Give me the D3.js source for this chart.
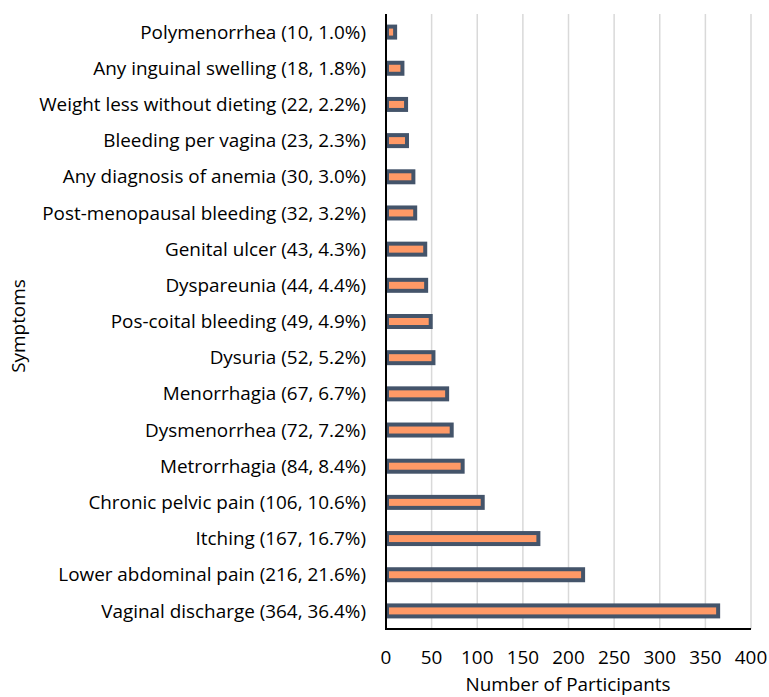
<!DOCTYPE html>
<html>
<head>
<meta charset="utf-8">
<script src="https://cdn.jsdelivr.net/npm/d3@7/dist/d3.min.js"></script>
<style>
  body { margin: 0; background: #fff; }
  svg text { font-family: "Open Sans", "Noto Sans", sans-serif; fill: #000; }
</style>
</head>
<body>
<svg id="chart" width="769" height="697"></svg>
<script>
// Symptom categories (top to bottom) and participant counts
const symptoms = [
  "Polymenorrhea", "Any inguinal swelling", "Weight less without dieting",
  "Bleeding per vagina", "Any diagnosis of anemia", "Post-menopausal bleeding",
  "Genital ulcer", "Dyspareunia", "Pos-coital bleeding", "Dysuria",
  "Menorrhagia", "Dysmenorrhea", "Metrorrhagia", "Chronic pelvic pain",
  "Itching", "Lower abdominal pain", "Vaginal discharge"
];
const counts = [10, 18, 22, 23, 30, 32, 43, 44, 49, 52, 67, 72, 84, 106, 167, 216, 364];
const percents = ["1.0%", "1.8%", "2.2%", "2.3%", "3.0%", "3.2%", "4.3%", "4.4%", "4.9%",
  "5.2%", "6.7%", "7.2%", "8.4%", "10.6%", "16.7%", "21.6%", "36.4%"];
const xTicks = [0, 50, 100, 150, 200, 250, 300, 350, 400];

const rows = symptoms.map((s, i) => ({
  name: s, value: counts[i], label: `${s} (${counts[i]}, ${percents[i]})`
}));

const svg = d3.select("#chart");
const plotL = 386, plotR = 751, plotT = 14, plotB = 629;
const fontSize = 18.9;

const x = d3.scaleLinear().domain([0, 400]).range([plotL, plotR]);
const y = d3.scaleBand().domain(symptoms).range([plotT, plotB]).paddingInner(0.6).paddingOuter(0.3);

// vertical gridlines
svg.append("g").selectAll("line").data(xTicks.slice(1)).join("line")
  .attr("x1", d => x(d)).attr("x2", d => x(d))
  .attr("y1", plotT).attr("y2", plotB)
  .attr("stroke", "#d9d9d9").attr("stroke-width", 1.5);

// bars
svg.append("g").selectAll("rect").data(rows).join("rect")
  .attr("x", x(0) + 1)
  .attr("y", d => y(d.name) + y.bandwidth() / 2 - 5.5)
  .attr("width", d => x(d.value) - x(0) - 1)
  .attr("height", 11)
  .attr("fill", "#ff9966")
  .attr("stroke", "#44546a")
  .attr("stroke-width", 4);

// axis lines
svg.append("line").attr("x1", plotL).attr("x2", plotL).attr("y1", plotT).attr("y2", plotB + 1)
  .attr("stroke", "#000").attr("stroke-width", 2);
svg.append("line").attr("x1", plotL - 1).attr("x2", plotR).attr("y1", plotB).attr("y2", plotB)
  .attr("stroke", "#000").attr("stroke-width", 2);

// category labels
svg.append("g").selectAll("text").data(rows).join("text")
  .attr("x", plotL - 20)
  .attr("y", d => y(d.name) + y.bandwidth() / 2)
  .attr("dy", "0.35em")
  .attr("text-anchor", "end")
  .attr("font-size", fontSize)
  .text(d => d.label);

// x tick labels
svg.append("g").selectAll("text").data(xTicks).join("text")
  .attr("x", d => x(d))
  .attr("y", 664)
  .attr("text-anchor", "middle")
  .attr("font-size", fontSize)
  .text(d => d);

// axis titles
svg.append("text").attr("x", 568).attr("y", 691).attr("text-anchor", "middle")
  .attr("font-size", fontSize).text("Number of Participants");
svg.append("text").attr("transform", "translate(25,326) rotate(-90)")
  .attr("text-anchor", "middle").attr("font-size", fontSize).text("Symptoms");
</script>
</body>
</html>
